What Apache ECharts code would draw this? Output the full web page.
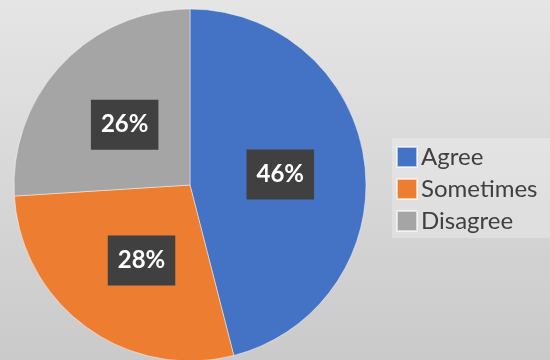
<!DOCTYPE html>
<html>
<head>
<meta charset="utf-8">
<script src="https://cdn.jsdelivr.net/npm/echarts@6/dist/echarts.min.js"></script>
<style>
  html, body { margin: 0; padding: 0; }
  #chart { width: 550px; height: 360px; }
</style>
</head>
<body>
<div id="chart"></div>
<script>
// Survey responses (percent of respondents)
const categories = ['Agree', 'Sometimes', 'Disagree'];
const values = [46, 28, 26];
const colors = ['#4472C4', '#ED7D31', '#A5A5A5'];
// small nudges for the value boxes
const labelOffsets = [[0, 1], [5, 2], [1, 2]];

const chart = echarts.init(document.getElementById('chart'), null, { renderer: 'canvas' });

chart.setOption({
  backgroundColor: {
    type: 'linear', x: 0, y: 0, x2: 0, y2: 1,
    colorStops: [
      { offset: 0, color: '#e5e5e5' },
      { offset: 1, color: '#cacaca' }
    ]
  },
  animation: false,
  color: colors,
  legend: {
    orient: 'vertical',
    left: 392,
    top: 138,
    padding: [7, 20, 5, 4],
    backgroundColor: 'rgba(255,255,255,0.25)',
    itemWidth: 20,
    itemHeight: 20,
    itemGap: 8,
    icon: 'rect',
    data: categories,
    textStyle: {
      fontFamily: 'Lato',
      fontSize: 24,
      lineHeight: 20,
      color: '#404040',
      padding: [0, 0, 0, -1]
    }
  },
  series: [{
    type: 'pie',
    center: [190, 185],
    radius: 176,
    startAngle: 90,
    clockwise: true,
    avoidLabelOverlap: false,
    itemStyle: { borderColor: 'rgba(255,255,255,0.6)', borderWidth: 0.75 },
    label: {
      show: true,
      position: 'inside',
      formatter: '{c}%',
      fontFamily: 'Lato',
      fontWeight: 'bold',
      fontSize: 24,
      lineHeight: 24,
      color: '#ffffff',
      backgroundColor: '#404040',
      padding: [13, 10]
    },
    labelLine: { show: false },
    data: categories.map((name, i) => ({
      name,
      value: values[i],
      label: { offset: labelOffsets[i] }
    }))
  }]
});
</script>
</body>
</html>
